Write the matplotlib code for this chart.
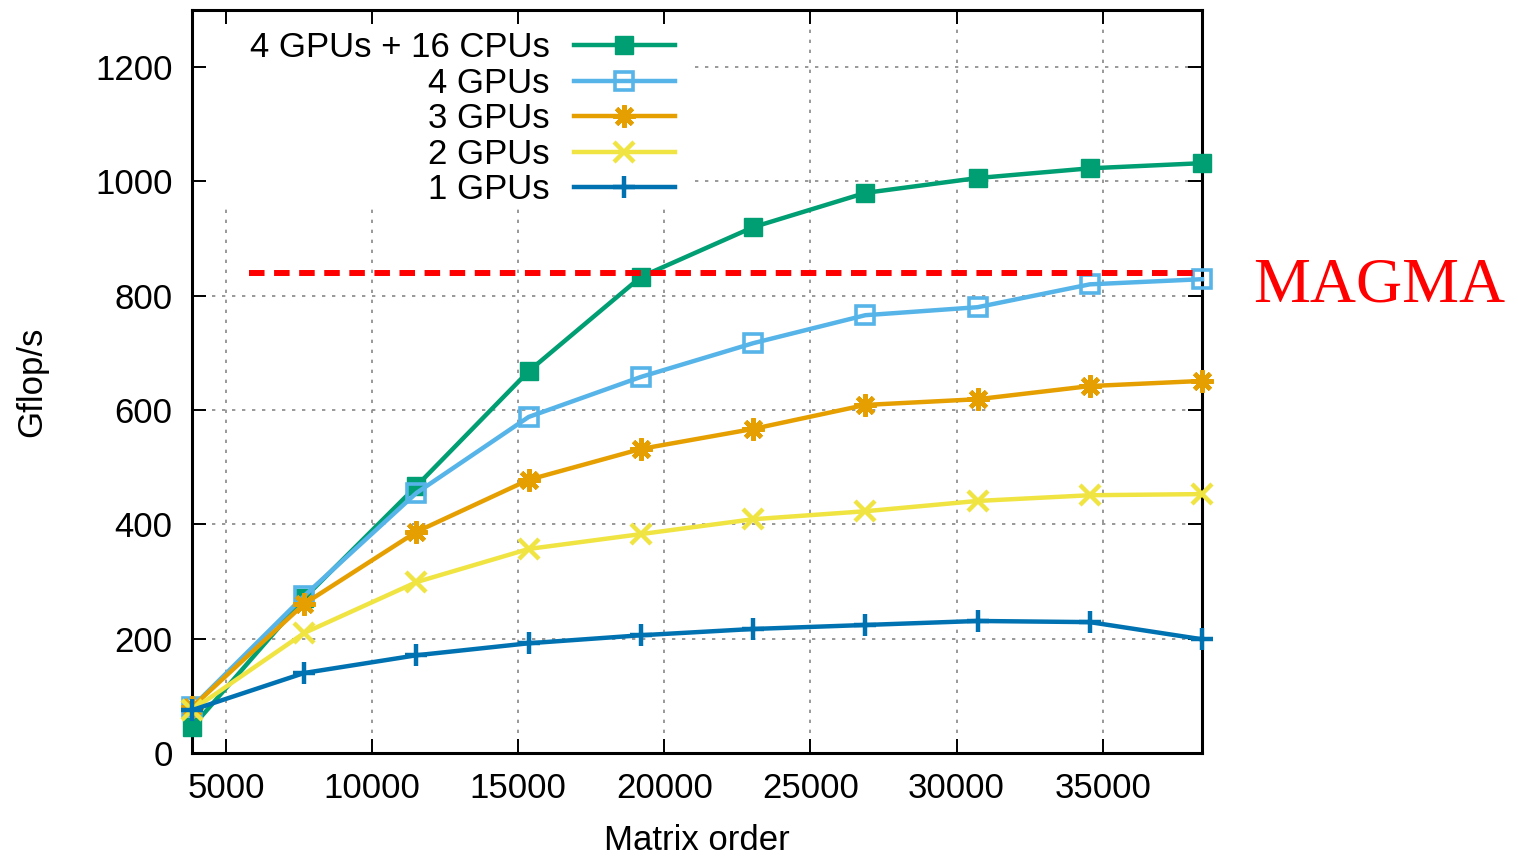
import matplotlib
matplotlib.use("Agg")
import matplotlib.pyplot as plt

# Matrix orders benchmarked
matrix_order = [3840, 7680, 11520, 15360, 19200, 23040, 26880, 30720, 34560, 38400]

# Performance (Gflop/s) per configuration
gpu4_cpu16 = [45, 271, 467, 668, 833, 920, 980, 1006, 1023, 1032]
gpu4 = [80, 275, 455, 588, 658, 717, 766, 780, 820, 829]
gpu3 = [80, 261, 387, 478, 532, 567, 609, 619, 642, 651]
gpu2 = [75, 210, 299, 357, 383, 409, 423, 441, 451, 453]
gpu1 = [75, 140, 171, 192, 206, 217, 224, 231, 229, 199]

labels = ["4 GPUs + 16 CPUs", "4 GPUs", "3 GPUs", "2 GPUs", "1 GPUs"]

# MAGMA reference level
magma_x = [5800, 38400]
magma_y = 840

x_ticks = [5000, 10000, 15000, 20000, 25000, 30000, 35000]
y_ticks = [0, 200, 400, 600, 800, 1000, 1200]

plt.rcParams["font.family"] = ["Liberation Sans", "DejaVu Sans"]

W, H = 1518, 857
fig = plt.figure(figsize=(W / 100, H / 100), dpi=100)
ax = fig.add_axes([192 / W, 1 - 753 / H, 1010 / W, 743 / H])

ax.set_xlim(3840, 38400)
ax.set_ylim(0, 1300)

# Dotted grid, kept clear of the key area in the upper left
key_right = 0.498
key_bottom = 0.733
grid_kw = dict(color="#888888", lw=1.2, linestyle=(0, (2, 4)), zorder=0.5)
for yv in y_ticks[1:]:
    if yv / 1300 > key_bottom:
        ax.axhline(yv, xmin=key_right, xmax=1, **grid_kw)
    else:
        ax.axhline(yv, **grid_kw)
for xv in x_ticks:
    frac = (xv - 3840) / (38400 - 3840)
    if frac < key_right:
        ax.axvline(xv, ymin=0, ymax=key_bottom, **grid_kw)
    else:
        ax.axvline(xv, **grid_kw)

lw = 3.2
common = dict(lw=lw, zorder=3, clip_on=False)
ax.plot(matrix_order, gpu4_cpu16, color="#009e73", marker="s", ms=13,
        label=labels[0], **common)
ax.plot(matrix_order, gpu4, color="#56b4e9", marker="s", ms=13,
        mfc="none", mew=2.6, label=labels[1], **common)
ax.plot(matrix_order, gpu3, color="#e69f00", marker=(8, 2, 0), ms=16,
        mew=3.2, label=labels[2], **common)
ax.plot(matrix_order, gpu2, color="#f0e442", marker="x", ms=15,
        mew=3.2, label=labels[3], **common)
ax.plot(matrix_order, gpu1, color="#0072b2", marker="+", ms=16,
        mew=3.2, label=labels[4], **common)

ax.plot(magma_x, [magma_y, magma_y], color="#ff0000", lw=4.3,
        dashes=(2.6, 1.6), zorder=4, clip_on=False)
fig.text(1253 / W, 1 - 302 / H, "MAGMA", color="#ff0000", fontsize=46,
         family=["Liberation Serif", "DejaVu Serif"], ha="left", va="baseline")

ax.set_xticks(x_ticks)
ax.set_yticks(y_ticks)
ax.tick_params(direction="in", top=True, right=True, length=10, width=1.4,
               labelsize=25, pad=14)
for s in ax.spines.values():
    s.set_linewidth(2.2)

ax.set_xlabel("Matrix order", fontsize=25, labelpad=13)
ax.set_ylabel("Gflop/s", fontsize=25, labelpad=34)

leg = ax.legend(loc="upper right", bbox_to_anchor=(692 / W, 1 - 14 / H),
                bbox_transform=fig.transFigure, frameon=False, fontsize=25,
                markerfirst=False, handlelength=2.9, handletextpad=0.7,
                labelspacing=0.07, borderpad=0.5, borderaxespad=0)
for col in leg._legend_handle_box.get_children():
    col.align = "right"

fig.savefig("out.png", dpi=100)
